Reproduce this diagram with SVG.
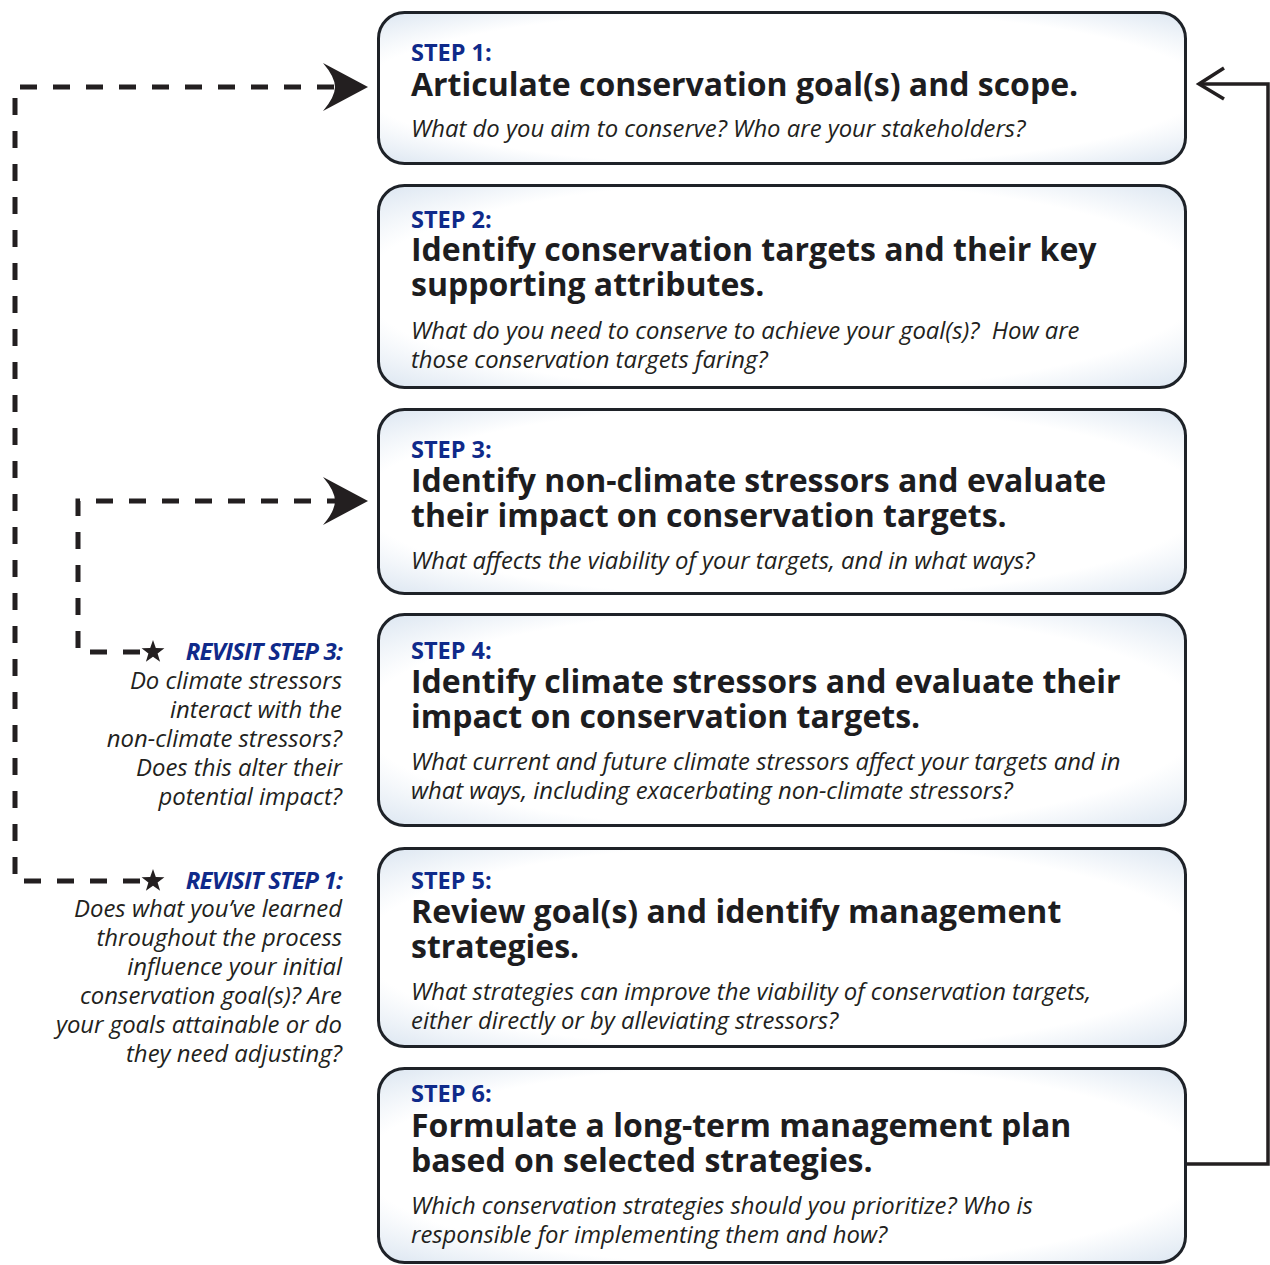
<svg xmlns="http://www.w3.org/2000/svg" width="1270" height="1265" viewBox="0 0 1270 1265">
<defs>
<radialGradient id="bg" cx="0.5" cy="0.5" r="0.72">
<stop offset="0" stop-color="#ffffff"/>
<stop offset="0.72" stop-color="#ffffff"/>
<stop offset="1" stop-color="#d9e4f0"/>
</radialGradient>
<path id="head" d="M0 0 L-45 -24 Q-33 -10 -33 0 Q-33 10 -45 24 Z"/>
<polygon id="star" points="0,-12 2.8,-3.9 11.4,-3.7 4.6,1.5 7.1,9.7 0,4.8 -7.1,9.7 -4.6,1.5 -11.4,-3.7 -2.8,-3.9"/>
</defs>
<style>
.box{fill:url(#bg);stroke:#1e2228;stroke-width:3}
.step{font-family:"Open Sans",sans-serif;font-weight:700;font-size:23.5px;fill:#0f2a8a}
.title{font-family:"Open Sans",sans-serif;font-weight:700;font-size:32px;fill:#1d1d1f}
.q{font-family:"Open Sans",sans-serif;font-style:italic;font-size:23.85px;fill:#231f20;white-space:pre}
.rv{font-family:"Open Sans",sans-serif;font-style:italic;font-weight:700;font-size:24px;fill:#0f2a8a;text-anchor:end;letter-spacing:-0.8px}
.rq{font-family:"Open Sans",sans-serif;font-style:italic;font-size:23.9px;fill:#231f20;text-anchor:end}
.dash{fill:none;stroke:#231f20;stroke-width:5;stroke-dasharray:17 16}
.solid{fill:none;stroke:#231f20;stroke-width:3.5}
</style>
<g id="connectors">
<path class="dash" d="M140 881 H15 V87 H335"/>
<use href="#head" x="368" y="87" fill="#231f20"/>
<path class="dash" d="M140 652 H78 V501 H335"/>
<use href="#head" x="368" y="501" fill="#231f20"/>
<path class="solid" d="M1186 1164 H1268 V84 H1199"/>
<path class="solid" d="M1224 68 L1199 84 L1224 99"/>
</g>
<g id="step1">
<rect class="box" x="378.5" y="12.5" width="807" height="151" rx="26"/>
<text class="step" x="411" y="61">STEP 1:</text>
<text class="title" x="411" y="96">Articulate conservation goal(s) and scope.</text>
<text class="q" x="411" y="137">What do you aim to conserve? Who are your stakeholders?</text>
</g>
<g id="step2">
<rect class="box" x="378.5" y="185.5" width="807" height="202" rx="26"/>
<text class="step" x="411" y="228">STEP 2:</text>
<text class="title" x="411" y="261">Identify conservation targets and their key</text>
<text class="title" x="411" y="296">supporting attributes.</text>
<text class="q" x="411" y="339">What do you need to conserve to achieve your goal(s)?  How are</text>
<text class="q" x="411" y="368">those conservation targets faring?</text>
</g>
<g id="step3">
<rect class="box" x="378.5" y="409.5" width="807" height="184" rx="26"/>
<text class="step" x="411" y="458">STEP 3:</text>
<text class="title" x="411" y="492">Identify non-climate stressors and evaluate</text>
<text class="title" x="411" y="527">their impact on conservation targets.</text>
<text class="q" x="411" y="569">What affects the viability of your targets, and in what ways?</text>
</g>
<g id="step4">
<rect class="box" x="378.5" y="614.5" width="807" height="211" rx="26"/>
<text class="step" x="411" y="659">STEP 4:</text>
<text class="title" x="411" y="693">Identify climate stressors and evaluate their</text>
<text class="title" x="411" y="728">impact on conservation targets.</text>
<text class="q" x="411" y="770">What current and future climate stressors affect your targets and in</text>
<text class="q" x="411" y="799">what ways, including exacerbating non-climate stressors?</text>
</g>
<g id="step5">
<rect class="box" x="378.5" y="848.5" width="807" height="198" rx="26"/>
<text class="step" x="411" y="889">STEP 5:</text>
<text class="title" x="411" y="923">Review goal(s) and identify management</text>
<text class="title" x="411" y="958">strategies.</text>
<text class="q" x="411" y="1000">What strategies can improve the viability of conservation targets,</text>
<text class="q" x="411" y="1029">either directly or by alleviating stressors?</text>
</g>
<g id="step6">
<rect class="box" x="378.5" y="1068.5" width="807" height="194" rx="26"/>
<text class="step" x="411" y="1102">STEP 6:</text>
<text class="title" x="411" y="1137">Formulate a long-term management plan</text>
<text class="title" x="411" y="1172">based on selected strategies.</text>
<text class="q" x="411" y="1214">Which conservation strategies should you prioritize? Who is</text>
<text class="q" x="411" y="1243">responsible for implementing them and how?</text>
</g>
<g id="revisit3">
<use href="#star" x="153" y="652" fill="#231f20"/>
<text class="rv" x="342" y="660">REVISIT STEP 3:</text>
<text class="rq" x="342" y="689">Do climate stressors</text>
<text class="rq" x="342" y="718">interact with the</text>
<text class="rq" x="342" y="747">non-climate stressors?</text>
<text class="rq" x="342" y="776">Does this alter their</text>
<text class="rq" x="342" y="805">potential impact?</text>
</g>
<g id="revisit1">
<use href="#star" x="153" y="881" fill="#231f20"/>
<text class="rv" x="342" y="889">REVISIT STEP 1:</text>
<text class="rq" x="342" y="917">Does what you’ve learned</text>
<text class="rq" x="342" y="946">throughout the process</text>
<text class="rq" x="342" y="975">influence your initial</text>
<text class="rq" x="342" y="1004">conservation goal(s)? Are</text>
<text class="rq" x="342" y="1033">your goals attainable or do</text>
<text class="rq" x="342" y="1062">they need adjusting?</text>
</g>
</svg>
